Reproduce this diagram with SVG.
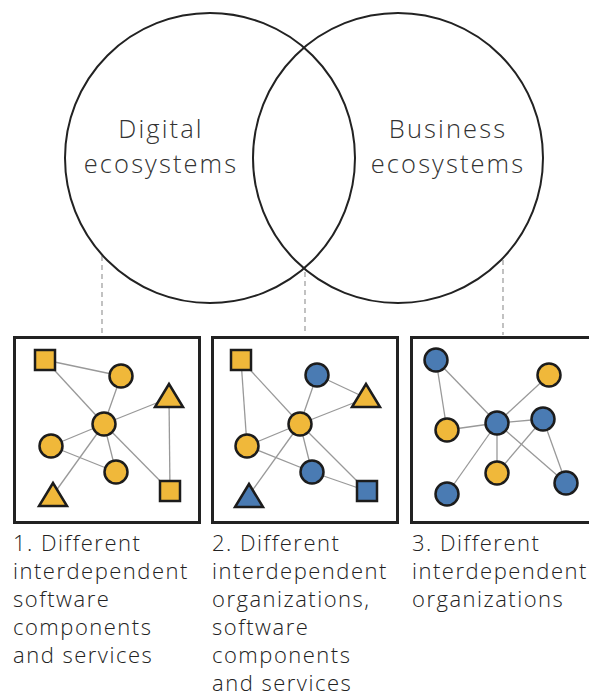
<svg xmlns="http://www.w3.org/2000/svg" width="589" height="698" viewBox="0 0 589 698">
<style>
.venn{fill:none;stroke:#222;stroke-width:2}
.dash{stroke:#999;stroke-width:1.2;stroke-dasharray:5 4}
.box{fill:#fff;stroke:#222;stroke-width:3}
.edge{stroke:#999;stroke-width:1.3}
.y{fill:#F0B83A;stroke:#1c1c1c;stroke-width:2.5}
.b{fill:#4A7BB3;stroke:#1c1c1c;stroke-width:2.5}
.big{font-family:"Open Sans","Noto Sans",sans-serif;font-weight:300;font-size:25.5px;letter-spacing:2.1px;fill:#333;text-anchor:middle}
.cap{font-family:"Open Sans","Noto Sans",sans-serif;font-weight:300;font-size:22px;letter-spacing:1.5px;fill:#222}
</style>
<rect width="589" height="698" fill="#fff"/>
<g id="connectors">
<line class="dash" x1="102" y1="256" x2="102" y2="335"/>
<line class="dash" x1="305" y1="272" x2="305" y2="335"/>
<line class="dash" x1="503" y1="260" x2="503" y2="335"/>
</g>
<g id="digital-ecosystems">
<circle class="venn" cx="210" cy="158" r="145"/>
<text class="big" x="161" y="138">Digital</text>
<text class="big" x="161" y="173">ecosystems</text>
</g>
<g id="business-ecosystems">
<circle class="venn" cx="398" cy="158" r="145"/>
<text class="big" x="448" y="138">Business</text>
<text class="big" x="448" y="173">ecosystems</text>
</g>
<g id="box1">
<rect class="box" x="14.5" y="337.5" width="185" height="185"/>
<g class="edges">
<line class="edge" x1="45" y1="360" x2="121" y2="376"/>
<line class="edge" x1="45" y1="360" x2="104" y2="424"/>
<line class="edge" x1="121" y1="376" x2="104" y2="424"/>
<line class="edge" x1="104" y1="424" x2="169" y2="398"/>
<line class="edge" x1="104" y1="424" x2="51" y2="446"/>
<line class="edge" x1="104" y1="424" x2="116" y2="472"/>
<line class="edge" x1="104" y1="424" x2="53" y2="495"/>
<line class="edge" x1="104" y1="424" x2="170" y2="491"/>
<line class="edge" x1="169" y1="398" x2="170" y2="491"/>
<line class="edge" x1="51" y1="446" x2="116" y2="472"/>
</g>
<rect class="y" x="35" y="350" width="20" height="20"/>
<circle class="y" cx="121" cy="376" r="11.5"/>
<polygon class="y" points="169,384 155,407 183,407"/>
<circle class="y" cx="104" cy="424" r="11.5"/>
<circle class="y" cx="51" cy="446" r="11.5"/>
<circle class="y" cx="116" cy="472" r="11.5"/>
<polygon class="y" points="53,483 39,506 67,506"/>
<rect class="y" x="160" y="481" width="20" height="20"/>
</g>
<g id="box2">
<rect class="box" x="212.5" y="337.5" width="185" height="185"/>
<g class="edges">
<line class="edge" x1="241" y1="360" x2="300" y2="424"/>
<line class="edge" x1="241" y1="360" x2="247" y2="446"/>
<line class="edge" x1="317" y1="375" x2="300" y2="424"/>
<line class="edge" x1="317" y1="375" x2="366" y2="398"/>
<line class="edge" x1="366" y1="398" x2="300" y2="424"/>
<line class="edge" x1="300" y1="424" x2="247" y2="446"/>
<line class="edge" x1="300" y1="424" x2="312" y2="472"/>
<line class="edge" x1="300" y1="424" x2="249" y2="495"/>
<line class="edge" x1="300" y1="424" x2="367" y2="491"/>
<line class="edge" x1="247" y1="446" x2="312" y2="472"/>
<line class="edge" x1="312" y1="472" x2="367" y2="491"/>
</g>
<rect class="y" x="231" y="350" width="20" height="20"/>
<circle class="b" cx="317" cy="375" r="11.5"/>
<polygon class="y" points="366,384 352,407 380,407"/>
<circle class="y" cx="300" cy="424" r="11.5"/>
<circle class="y" cx="247" cy="446" r="11.5"/>
<circle class="b" cx="312" cy="472" r="11.5"/>
<polygon class="b" points="249,484 235,507 263,507"/>
<rect class="b" x="357" y="481" width="20" height="20"/>
</g>
<g id="box3">
<rect class="box" x="411.5" y="337.5" width="185" height="185"/>
<g class="edges">
<line class="edge" x1="436" y1="360" x2="447" y2="430"/>
<line class="edge" x1="436" y1="360" x2="497" y2="423"/>
<line class="edge" x1="497" y1="423" x2="549" y2="375"/>
<line class="edge" x1="497" y1="423" x2="447" y2="430"/>
<line class="edge" x1="497" y1="423" x2="543" y2="419"/>
<line class="edge" x1="497" y1="423" x2="497" y2="473"/>
<line class="edge" x1="497" y1="423" x2="447" y2="494"/>
<line class="edge" x1="497" y1="423" x2="566" y2="483"/>
<line class="edge" x1="543" y1="419" x2="497" y2="473"/>
<line class="edge" x1="543" y1="419" x2="566" y2="483"/>
</g>
<circle class="b" cx="436" cy="360" r="11.5"/>
<circle class="y" cx="549" cy="375" r="11.5"/>
<circle class="y" cx="447" cy="430" r="11.5"/>
<circle class="b" cx="497" cy="423" r="11.5"/>
<circle class="b" cx="543" cy="419" r="11.5"/>
<circle class="y" cx="497" cy="473" r="11.5"/>
<circle class="b" cx="447" cy="494" r="11.5"/>
<circle class="b" cx="566" cy="483" r="11.5"/>
</g>
<g id="caption1">
<text class="cap" x="13" y="551">1. Different</text>
<text class="cap" x="13" y="579">interdependent</text>
<text class="cap" x="13" y="607">software</text>
<text class="cap" x="13" y="635">components</text>
<text class="cap" x="13" y="663">and services</text>
</g>
<g id="caption2">
<text class="cap" x="212" y="551">2. Different</text>
<text class="cap" x="212" y="579">interdependent</text>
<text class="cap" x="212" y="607">organizations,</text>
<text class="cap" x="212" y="635">software</text>
<text class="cap" x="212" y="663">components</text>
<text class="cap" x="212" y="691">and services</text>
</g>
<g id="caption3">
<text class="cap" x="412" y="551">3. Different</text>
<text class="cap" x="412" y="579">interdependent</text>
<text class="cap" x="412" y="607">organizations</text>
</g>
</svg>
